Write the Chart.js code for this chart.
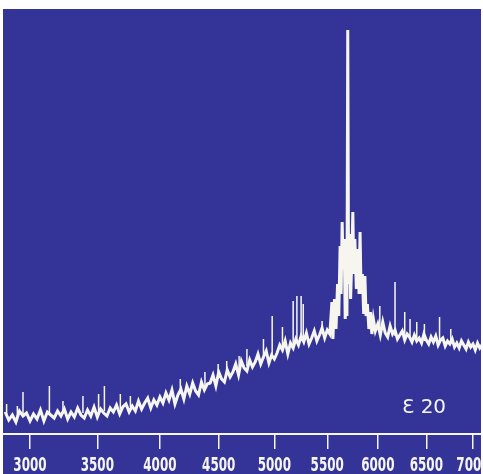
<!DOCTYPE html>
<html>
<head>
<meta charset="utf-8">
<script src="https://cdn.jsdelivr.net/npm/chart.js@4.4.1/dist/chart.umd.min.js"></script>
<style>
  html, body { margin: 0; padding: 0; background: #ffffff; }
  #spectrum { display: block; }
</style>
</head>
<body>
<canvas id="spectrum" width="483" height="474"></canvas>
<script>
// wavelength ticks (Angstrom), axis is drawn on a sqrt(lambda) scale like the plate
const tickLabels = [3000, 3500, 4000, 4500, 5000, 5500, 6000, 6500, 7000];
const lamMin = 2810;
const lamMax = 7088;
const plateLabel = 'Ɛ 20';

// continuum trace (arbitrary intensity units)
const traceLam = [
    2825, 2850, 2875, 2900, 2925, 2950, 2975, 3000,
    3025, 3050, 3075, 3100, 3125, 3150, 3175, 3200,
    3225, 3250, 3275, 3300, 3325, 3350, 3375, 3400,
    3425, 3450, 3475, 3500, 3525, 3550, 3575, 3600,
    3625, 3650, 3675, 3700, 3725, 3750, 3775, 3800,
    3825, 3850, 3875, 3900, 3925, 3950, 3975, 4000,
    4025, 4050, 4075, 4100, 4125, 4150, 4175, 4200,
    4225, 4250, 4275, 4300, 4325, 4350, 4375, 4400,
    4425, 4450, 4475, 4500, 4525, 4550, 4575, 4600,
    4625, 4650, 4675, 4700, 4725, 4750, 4775, 4800,
    4825, 4850, 4875, 4900, 4925, 4950, 4975, 5000,
    5025, 5050, 5075, 5100, 5125, 5150, 5175, 5200,
    5225, 5250, 5275, 5300, 5325, 5350, 5375, 5400,
    5425, 5450, 5475, 5500, 5525,
    // the big blend around 5700
    5545, 5555, 5570, 5585, 5600, 5612, 5625, 5635,
    5645, 5655, 5665, 5675, 5685, 5692, 5700, 5708,
    5718, 5728, 5740, 5750, 5760, 5770, 5785, 5800,
    5812, 5822, 5832, 5845, 5858, 5870, 5882, 5895,
    5910, 5925, 5940, 5955,
    5975, 6000, 6025, 6050, 6075, 6100, 6125, 6150,
    6175, 6200, 6225, 6250, 6275, 6300, 6325, 6350,
    6375, 6400, 6425, 6450, 6475, 6500, 6525, 6550,
    6575, 6600, 6625, 6650, 6675, 6700, 6725, 6750,
    6775, 6800, 6825, 6850, 6875, 6900, 6925, 6950,
    6975, 7000, 7025, 7050, 7075, 7100
];
const traceInt = [
    22, 14, 19, 12, 23, 18, 21, 13,
    20, 15, 24, 13, 22, 19, 16, 23,
    18, 25, 15, 22, 17, 26, 19, 16,
    24, 18, 27, 17, 25, 21, 18, 26,
    22, 29, 20, 27, 30, 22, 28, 23,
    33, 25, 31, 36, 26, 34, 29, 37,
    31, 41, 34, 44, 30, 39, 45, 35,
    48, 40, 51, 43, 39, 52, 44, 50,
    51, 59, 48, 62, 55, 52, 64, 57,
    62, 70, 59, 73, 66, 63, 74, 67,
    72, 80, 70, 77, 83, 71, 79, 75,
    81, 89, 84, 93, 80, 91, 86, 95,
    89, 98, 92, 101, 90, 96, 103, 93,
    99, 106, 96, 104, 100,
    132, 95, 135, 105, 150, 118, 188, 140,
    212, 165, 195, 115, 150, 118, 404, 150,
    200, 135, 175, 222, 160, 195, 145, 185,
    140, 202, 140, 160, 120, 158, 118, 130,
    105, 122, 100, 115,
    103, 110, 99, 112, 101, 97, 108, 100,
    104, 95, 99, 103, 94, 100, 97, 92,
    99, 93, 96, 91, 100, 94, 90, 97,
    92, 98, 89, 94, 96, 88, 93, 90,
    95, 87, 91, 86, 93, 89, 85, 92,
    87, 90, 84, 91, 86, 89
];

// sharp emission lines standing above the trace
const lineLam  = [2835, 2910, 2950, 3140, 3240, 3390, 3510, 3555, 3680, 3760, 4170, 4380, 4495, 4570, 4680, 4750, 4900, 4980, 5075, 5175, 5210, 5250, 5270, 5450, 6020, 6175, 6275, 6330, 6400, 6480, 6640, 6760];
const lineBase = [18, 17, 18, 19, 20, 21, 22, 23, 25, 27, 40, 48, 55, 60, 64, 68, 75, 80, 85, 90, 92, 93, 94, 100, 105, 98, 96, 95, 94, 93, 92, 90];
const lineTop  = [30, 28, 42, 48, 33, 38, 40, 48, 40, 38, 55, 62, 70, 73, 78, 85, 95, 118, 107, 133, 138, 138, 130, 113, 128, 152, 122, 115, 112, 110, 117, 105];

const plateBlue = '#333398';
const ink = '#f6f6ef';

const tracePoints = traceLam.map((lam, i) => ({ x: Math.sqrt(lam), y: traceInt[i] }));
const linePoints = [];
lineLam.forEach((lam, i) => {
    linePoints.push({ x: Math.sqrt(lam), y: lineBase[i] });
    linePoints.push({ x: Math.sqrt(lam), y: lineTop[i] });
    linePoints.push({ x: Math.sqrt(lam), y: null });
});

const platePlugin = {
    id: 'plate',
    beforeDraw(chart) {
        const ctx = chart.ctx;
        ctx.save();
        ctx.fillStyle = '#ffffff';
        ctx.fillRect(0, 0, chart.width, chart.height);
        ctx.fillStyle = plateBlue;
        ctx.fillRect(3, 9, 478, chart.height - 9);
        ctx.restore();
    },
    afterDraw(chart) {
        const ctx = chart.ctx;
        const xs = chart.scales.x;
        ctx.save();
        ctx.fillStyle = ink;
        ctx.textAlign = 'center';
        ctx.textBaseline = 'middle';
        ctx.font = "bold 19px 'Liberation Sans Narrow', 'DejaVu Sans Condensed', sans-serif";
        tickLabels.forEach(v => {
            const px = xs.getPixelForValue(Math.sqrt(v));
            ctx.save();
            ctx.translate(px, 466);
            ctx.scale(0.7, 1);
            ctx.fillText(String(v), 0, 0);
            ctx.restore();
        });
        ctx.textAlign = 'left';
        ctx.textBaseline = 'alphabetic';
        ctx.font = "20px 'DejaVu Sans', sans-serif";
        ctx.fillText(plateLabel, 402, 413);
        ctx.restore();
    }
};

const chart = new Chart(document.getElementById('spectrum'), {
    type: 'line',
    data: {
        datasets: [{
            label: 'trace',
            data: tracePoints,
            borderColor: ink,
            borderWidth: 3,
            pointRadius: 0,
            tension: 0
        }, {
            label: 'lines',
            data: linePoints,
            borderColor: ink,
            borderWidth: 1.5,
            pointRadius: 0,
            spanGaps: false
        }]
    },
    options: {
        responsive: false,
        animation: false,
        devicePixelRatio: 1,
        layout: { padding: { left: 3, right: 2, top: 9, bottom: 25 } },
        plugins: {
            legend: { display: false },
            tooltip: { enabled: false }
        },
        scales: {
            x: {
                type: 'linear',
                min: Math.sqrt(lamMin),
                max: Math.sqrt(lamMax),
                afterBuildTicks: scale => {
                    scale.ticks = tickLabels.map(v => ({ value: Math.sqrt(v) }));
                },
                ticks: { display: false },
                grid: {
                    drawOnChartArea: false,
                    drawTicks: true,
                    tickLength: 15,
                    color: ink,
                    lineWidth: 1.5
                },
                border: { display: true, color: ink, width: 2 }
            },
            y: {
                display: false,
                min: 0,
                max: 425
            }
        }
    },
    plugins: [platePlugin]
});
</script>
</body>
</html>
